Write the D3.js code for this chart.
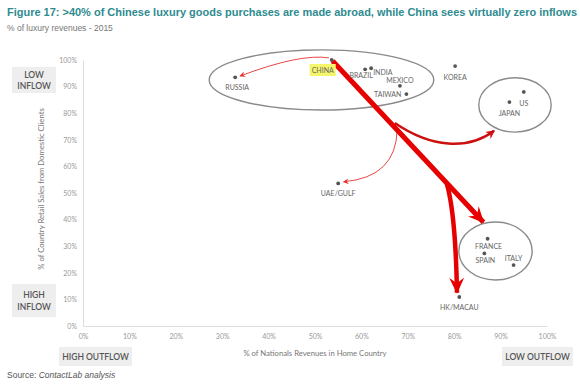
<!DOCTYPE html>
<html lang="en">
<head>
<meta charset="UTF-8">
<title>Figure 17</title>
<script src="https://cdn.jsdelivr.net/npm/d3@7"></script>
<style>
  body { margin: 0; background: #fff; }
  .title { font-family: "Liberation Sans", Arial, sans-serif; font-weight: bold; font-size: 11px; fill: #2e8b8f; }
  .subtitle { font-family: "Liberation Sans", Arial, sans-serif; font-size: 8.5px; fill: #777; }
  .tick text { font-family: Lato, sans-serif; font-size: 7px; fill: #999; }
  .axis-title { font-family: Lato, sans-serif; font-size: 7.7px; fill: #777; }
  .lbl { font-family: Lato, sans-serif; font-size: 7px; fill: #666; }
  .box-text { font-family: Lato, sans-serif; font-size: 8.5px; font-weight: 600; fill: #555; }
  .source { font-family: "Liberation Sans", Arial, sans-serif; font-size: 8.5px; fill: #555; }
</style>
</head>
<body>
<svg width="580" height="387"></svg>
<script>
// data
const countries = ["CHINA", "RUSSIA", "BRAZIL", "INDIA", "MEXICO", "TAIWAN", "KOREA",
  "US", "JAPAN", "UAE/GULF", "FRANCE", "SPAIN", "ITALY", "HK/MACAU"];
const nationalsHome = [53.6, 32.8, 60.8, 62.1, 68.3, 69.7, 80.2, 95.0, 91.9, 55.0, 87.2, 86.5, 92.8, 81.1];
const domesticSales = [100, 93.5, 96.5, 96.9, 90.3, 87.2, 97.7, 88.0, 84.2, 53.6, 32.8, 27.3, 22.9, 10.9];
const tickValues = [0, 10, 20, 30, 40, 50, 60, 70, 80, 90, 100];

// label placement (dx, dy in px, anchor)
const labelPos = {
  "CHINA": [-9, 13, "middle"], "RUSSIA": [2, 13, "middle"], "BRAZIL": [-4, 8.5, "middle"],
  "INDIA": [2, 7, "start"], "MEXICO": [0, -3, "middle"], "TAIWAN": [-5, 3, "end"],
  "KOREA": [0, 14, "middle"], "US": [0, 14, "middle"], "JAPAN": [0, 14, "middle"],
  "UAE/GULF": [0, 13, "middle"], "FRANCE": [1, 10.5, "middle"], "SPAIN": [1, 10, "middle"],
  "ITALY": [0, -4.5, "middle"], "HK/MACAU": [0, 13, "middle"]
};

const width = 580, height = 387;
const margin = { top: 60, right: 33, bottom: 61, left: 83 };

const svg = d3.select("svg");

const x = d3.scaleLinear().domain([0, 100]).range([margin.left, width - margin.right]);
const y = d3.scaleLinear().domain([0, 100]).range([height - margin.bottom, margin.top]);

// titles
svg.append("text").attr("class", "title").attr("x", 7).attr("y", 16)
  .attr("textLength", 570).attr("lengthAdjust", "spacingAndGlyphs")
  .text("Figure 17: >40% of Chinese luxury goods purchases are made abroad, while China sees virtually zero inflows");
svg.append("text").attr("class", "subtitle").attr("x", 7).attr("y", 31)
  .text("% of luxury revenues - 2015");

// axes
const fmt = d => d + "%";
svg.append("g")
  .attr("transform", `translate(0,${y(0)})`)
  .call(d3.axisBottom(x).tickValues(tickValues).tickFormat(fmt).tickSize(0).tickPadding(8))
  .call(g => g.select(".domain").attr("stroke", "#ddd"));
svg.append("g")
  .attr("transform", `translate(${x(0)},0)`)
  .call(d3.axisLeft(y).tickValues(tickValues).tickFormat(fmt).tickSize(0).tickPadding(6))
  .call(g => g.select(".domain").attr("stroke", "#ddd"));

svg.append("text").attr("class", "axis-title")
  .attr("x", x(50)).attr("y", 356).attr("text-anchor", "middle")
  .text("% of Nationals Revenues in Home Country");
svg.append("text").attr("class", "axis-title")
  .attr("transform", `translate(44,${y(51.5)}) rotate(-90)`).attr("text-anchor", "middle")
  .text("% of Country Retail Sales from Domestic Clients");

// grey corner boxes
function box(x0, y0, w, h, lines, lh) {
  svg.append("rect").attr("x", x0).attr("y", y0).attr("width", w).attr("height", h).attr("fill", "#eeeeee");
  lines.forEach((t, i) => {
    svg.append("text").attr("class", "box-text")
      .attr("x", x0 + w / 2).attr("text-anchor", "middle")
      .attr("y", y0 + h / 2 + (i - (lines.length - 1) / 2) * lh + 3)
      .text(t);
  });
}
box(12, 67, 44, 26, ["LOW", "INFLOW"], 11);
box(12, 284, 44, 33, ["HIGH", "INFLOW"], 12);
box(59, 347, 73, 19, ["HIGH OUTFLOW"], 0);
box(502, 347, 71, 19, ["LOW OUTFLOW"], 0);

// ellipses (centre and radii in data units)
const ellipses = [
  { cx: 51.4, cy: 92.5, rx: 24.2, ry: 11.3 },
  { cx: 93.1, cy: 83.1, rx: 7.8, ry: 10.2 },
  { cx: 88.9, cy: 28.2, rx: 7.9, ry: 10.9 }
];
svg.selectAll(".ell").data(ellipses).join("ellipse")
  .attr("cx", d => x(d.cx)).attr("cy", d => y(d.cy))
  .attr("rx", d => x(d.rx) - x(0)).attr("ry", d => y(0) - y(d.ry))
  .attr("fill", "none").attr("stroke", "#8a8a8a").attr("stroke-width", 1.4);

// arrow markers
const defs = svg.append("defs");
function marker(id, w, l, color) {
  defs.append("marker").attr("id", id)
    .attr("markerUnits", "userSpaceOnUse")
    .attr("viewBox", `0 ${-w / 2} ${l} ${w}`)
    .attr("refX", l - 1).attr("refY", 0)
    .attr("markerWidth", l).attr("markerHeight", w)
    .attr("orient", "auto")
    .append("path").attr("d", `M0,${-w / 2}L${l},0L0,${w / 2}L${l * 0.35},0Z`).attr("fill", color);
}
marker("big", 15, 16, "#e60000");
marker("mid", 9, 9, "#cc1010");
marker("small", 6, 6, "#e83030");

const P = (a, b) => [x(a), y(b)];
function curve(pts) {
  const p = pts.map(d => P(d[0], d[1]));
  if (p.length === 2) return `M${p[0]}L${p[1]}`;
  if (p.length === 3) return `M${p[0]}Q${p[1]} ${p[2]}`;
  return `M${p[0]}C${p[1]} ${p[2]} ${p[3]}`;
}

// arrows (points in data units)
const arrows = [
  { pts: [[53.0, 100.8], [46.8, 102.5], [33.9, 94.0]], w: 0.9, c: "#e83030", m: "small" },
  { pts: [[67.7, 73.7], [67.5, 56.0], [56.2, 54.2]], w: 0.9, c: "#e83030", m: "small" },
  { pts: [[67.2, 76.3], [75.0, 67.0], [83.0, 66.0], [88.6, 73.4]], w: 2.4, c: "#cc1010", m: "mid" },
  { pts: [[78.4, 53.6], [80.3, 42.0], [80.6, 12.5]], w: 4.5, c: "#e60000", m: "big" },
  { pts: [[53.8, 99.6], [86.3, 39.0]], w: 5, c: "#e60000", m: "big" }
];
svg.selectAll(".arrow").data(arrows).join("path")
  .attr("d", d => curve(d.pts))
  .attr("fill", "none").attr("stroke", d => d.c).attr("stroke-width", d => d.w)
  .attr("marker-end", d => `url(#${d.m})`);

// points and labels
const pts = countries.map((c, i) => ({ name: c, xv: nationalsHome[i], yv: domesticSales[i] }));

const china = pts[0];
svg.append("rect")
  .attr("x", x(china.xv) - 22).attr("y", y(china.yv) + 4)
  .attr("width", 26).attr("height", 12).attr("fill", "#f5f56a");

svg.selectAll(".dot").data(pts).join("circle")
  .attr("cx", d => x(d.xv)).attr("cy", d => y(d.yv)).attr("r", 1.9).attr("fill", "#555");

svg.selectAll(".lbl").data(pts).join("text").attr("class", "lbl")
  .attr("x", d => x(d.xv) + labelPos[d.name][0])
  .attr("y", d => y(d.yv) + labelPos[d.name][1])
  .attr("text-anchor", d => labelPos[d.name][2])
  .text(d => d.name);

// source
const src = svg.append("text").attr("class", "source").attr("x", 7).attr("y", 378);
src.append("tspan").text("Source: ");
src.append("tspan").attr("font-style", "italic").text("ContactLab analysis");
</script>
</body>
</html>
